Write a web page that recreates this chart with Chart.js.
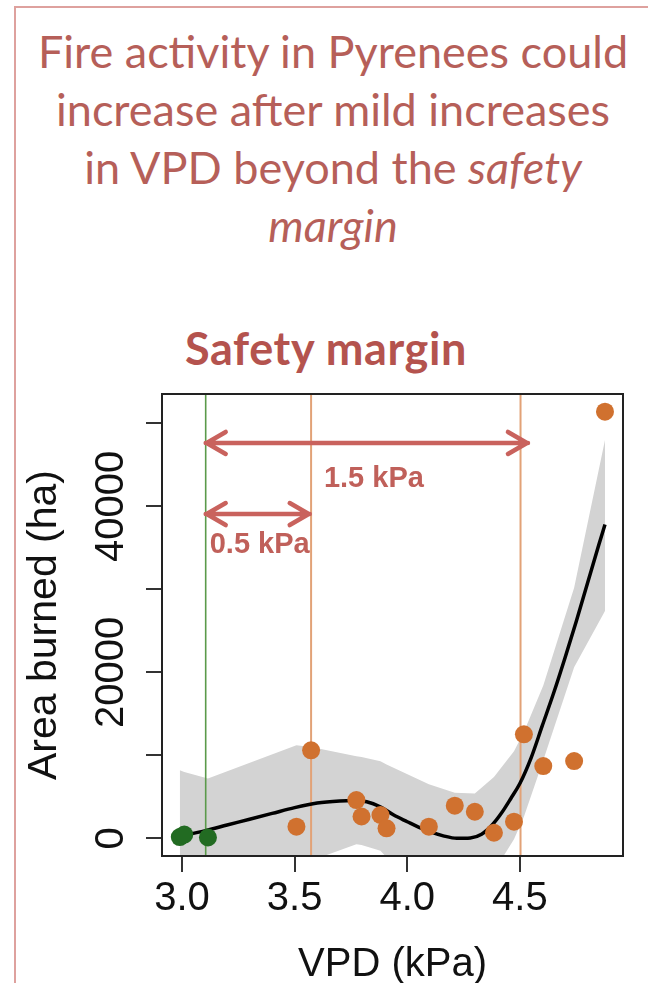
<!DOCTYPE html>
<html>
<head>
<meta charset="utf-8">
<title>Fire activity and VPD safety margin</title>
<script src="https://cdn.jsdelivr.net/npm/chart.js@4.4.1/dist/chart.umd.min.js"></script>
<style>
  html, body { margin: 0; padding: 0; background: #ffffff; overflow: hidden; }
  #page { position: relative; width: 648px; height: 983px; overflow: hidden; }
  #frameLeft { position: absolute; left: 14px; top: 6px; width: 2px; height: 990px; background: #dea19e; }
  #frameTop  { position: absolute; left: 14px; top: 6px; width: 640px; height: 2px; background: #dea19e; }
  #headline { position: absolute; left: 18px; top: 22px; width: 630px; text-align: center;
              font-family: Lato, "Open Sans", sans-serif; font-size: 45px; line-height: 58px; color: #b65f59; }
  #subtitle { position: absolute; left: 2px; top: 326px; width: 648px; text-align: center; letter-spacing: 0.6px;
              font-family: Lato, "Open Sans", sans-serif; font-weight: bold; font-size: 45px; line-height: 45px; color: #b4534e; }
  canvas { position: absolute; left: 0; top: 0; }
</style>
</head>
<body>
<div id="page">
  <div id="frameLeft"></div>
  <div id="frameTop"></div>
  <div id="headline">Fire activity in Pyrenees could<br>increase after mild increases<br>in VPD beyond the <i>safety</i><br><i>margin</i></div>
  <div id="subtitle">Safety margin</div>
  <canvas id="chart" width="648" height="983"></canvas>
</div>
<script>
// Yearly observations: VPD (kPa) and area burned (ha)
const greenVpd  = [2.99, 3.01, 3.115];
const greenArea = [150, 450, 100];
const orangeVpd  = [3.508, 3.573, 3.774, 3.797, 3.881, 3.908, 4.096, 4.211, 4.300, 4.385, 4.474, 4.518, 4.604, 4.741, 4.878];
const orangeArea = [1400, 10600, 4610, 2630, 2810, 1200, 1400, 3930, 3200, 670, 2000, 12530, 8710, 9310, 51400];

// Fitted response curve
const fitVpd  = [2.99, 3.10, 3.20, 3.30, 3.40, 3.50, 3.60, 3.70, 3.76, 3.82, 3.88, 3.94, 4.00, 4.05, 4.10, 4.16, 4.22, 4.28, 4.33, 4.38, 4.42, 4.46, 4.50, 4.55, 4.60, 4.65, 4.70, 4.75, 4.80, 4.85, 4.878];
const fitArea = [250, 900, 1600, 2300, 3000, 3700, 4250, 4500, 4550, 4400, 3800, 2800, 2000, 1350, 800, 300, 0, 50, 500, 1700, 3100, 4800, 6600, 9700, 13600, 17500, 21700, 26100, 30700, 35300, 37800];

// Confidence band of the fit
const bandVpd   = [2.99, 3.01, 3.115, 3.508, 3.573, 3.774, 3.797, 3.881, 3.908, 4.096, 4.211, 4.300, 4.385, 4.474, 4.518, 4.604, 4.741, 4.878];
const bandUpper = [8200, 8000, 7200, 11200, 11000, 9900, 9800, 9300, 8900, 6500, 5500, 5400, 7400, 10500, 12800, 18400, 30200, 48000];
const bandLower = [-7600, -7400, -5300, -3900, -2700, -700, -800, -1500, -2300, -4800, -5400, -5200, -4000, -100, 2600, 9400, 20600, 27400];

// Threshold VPD and the two margin levels
const thresholdVpd = 3.105;
const marginVpd    = [3.573, 4.503];

// Margin arrows: start, end, height, label
const arrowFrom   = [3.105, 3.105];
const arrowTo     = [4.536, 3.567];
const arrowLevel  = [47630, 39070];
const arrowLabels = ['1.5 kPa', '0.5 kPa'];
const arrowLabelVpd  = [3.852, 3.123];
const arrowLabelArea = [42330, 34370];
const arrowLabelAlign = ['center', 'left'];

// Axis ticks
const vpdTicks = [3.0, 3.5, 4.0, 4.5];
const areaTicks = [0, 10000, 20000, 30000, 40000, 50000];
const areaTickLabels = ['0', '', '20000', '', '40000', ''];

const AXIS_FONT = '"Liberation Sans", Arial, Helvetica, sans-serif';
const pts = (xs, ys) => xs.map((x, i) => ({ x: x, y: ys[i] }));
const vline = v => [{ x: v, y: -20000 }, { x: v, y: 70000 }];

const plotBox = {
  id: 'plotBox',
  afterDatasetsDraw(chart) {
    const { ctx, chartArea: a } = chart;
    ctx.save();
    ctx.strokeStyle = '#222';
    ctx.lineWidth = 2;
    ctx.strokeRect(a.left, a.top, a.right - a.left, a.bottom - a.top);
    ctx.restore();
  }
};

const marginArrows = {
  id: 'marginArrows',
  afterDatasetsDraw(chart) {
    const { ctx, scales: { x, y } } = chart;
    ctx.save();
    ctx.strokeStyle = '#c9625d';
    ctx.lineWidth = 4.5;
    ctx.lineCap = 'round';
    ctx.lineJoin = 'round';
    arrowFrom.forEach((v, i) => {
      const x1 = x.getPixelForValue(v), x2 = x.getPixelForValue(arrowTo[i]);
      const py = y.getPixelForValue(arrowLevel[i]);
      ctx.beginPath();
      ctx.moveTo(x1, py); ctx.lineTo(x2, py);
      ctx.moveTo(x1 + 20, py - 11); ctx.lineTo(x1 + 1, py); ctx.lineTo(x1 + 20, py + 11);
      ctx.moveTo(x2 - 20, py - 11); ctx.lineTo(x2 - 1, py); ctx.lineTo(x2 - 20, py + 11);
      ctx.stroke();
    });
    ctx.fillStyle = '#c0605a';
    ctx.font = 'bold 29px ' + AXIS_FONT;
    ctx.textBaseline = 'alphabetic';
    arrowLabels.forEach((t, i) => {
      ctx.textAlign = arrowLabelAlign[i];
      ctx.fillText(t, x.getPixelForValue(arrowLabelVpd[i]), y.getPixelForValue(arrowLabelArea[i]));
    });
    ctx.restore();
  }
};

const rotatedAreaLabels = {
  id: 'rotatedAreaLabels',
  afterDraw(chart) {
    const { ctx } = chart;
    const ys = chart.scales.y;
    ctx.save();
    ctx.font = '40px ' + AXIS_FONT;
    ctx.fillStyle = '#111';
    ctx.textAlign = 'center';
    ctx.textBaseline = 'alphabetic';
    areaTicks.forEach((v, i) => {
      const lab = areaTickLabels[i];
      if (!lab) return;
      ctx.save();
      ctx.translate(ys.right - 39, ys.getPixelForValue(v));
      ctx.rotate(-Math.PI / 2);
      ctx.fillText(lab, 0, 0);
      ctx.restore();
    });
    ctx.restore();
  }
};

new Chart(document.getElementById('chart'), {
  type: 'line',
  data: {
    datasets: [
      { data: pts(bandVpd, bandUpper), fill: '+1', backgroundColor: '#d3d3d3', borderWidth: 0, pointRadius: 0, tension: 0, order: 6 },
      { data: pts(bandVpd, bandLower), fill: false, borderWidth: 0, pointRadius: 0, tension: 0, order: 6 },
      { data: vline(thresholdVpd), borderColor: '#5b9a4b', borderWidth: 1.6, pointRadius: 0, fill: false, order: 5 },
      { data: vline(marginVpd[0]), borderColor: '#e2a277', borderWidth: 2, pointRadius: 0, fill: false, order: 5 },
      { data: vline(marginVpd[1]), borderColor: '#e2a277', borderWidth: 2, pointRadius: 0, fill: false, order: 5 },
      { data: pts(fitVpd, fitArea), borderColor: '#000', borderWidth: 3.5, pointRadius: 0, fill: false, cubicInterpolationMode: 'monotone', order: 4 },
      { data: pts(orangeVpd, orangeArea), showLine: false, pointRadius: 9, pointBackgroundColor: '#d0712f', pointBorderWidth: 0, order: 2 },
      { data: pts(greenVpd, greenArea), showLine: false, pointRadius: 9, pointBackgroundColor: '#226b22', pointBorderWidth: 0, order: 1 }
    ]
  },
  options: {
    responsive: false,
    animation: false,
    events: [],
    devicePixelRatio: 1,
    layout: { padding: { left: 0, right: 25, top: 394, bottom: 0 } },
    plugins: { legend: { display: false }, tooltip: { enabled: false }, title: { display: false } },
    scales: {
      x: {
        type: 'linear', min: 2.911, max: 4.958,
        afterBuildTicks: s => { s.ticks = vpdTicks.map(v => ({ value: v })); },
        afterFit: s => { s.height = 127; },
        border: { display: false },
        grid: { drawOnChartArea: false, drawTicks: true, tickLength: 16, color: '#333', lineWidth: 2 },
        ticks: { font: { family: AXIS_FONT, size: 40 }, color: '#111', padding: 3, maxRotation: 0,
                 callback: v => Number(v).toFixed(1) },
        title: { display: true, text: 'VPD (kPa)', color: '#111', font: { family: AXIS_FONT, size: 40, lineHeight: 1 }, padding: { top: 0, bottom: -2 } }
      },
      y: {
        type: 'linear', min: -2130, max: 53530,
        afterBuildTicks: s => { s.ticks = areaTicks.map(v => ({ value: v })); },
        afterFit: s => { s.width = 162; },
        border: { display: false },
        grid: { drawOnChartArea: false, drawTicks: true, tickLength: 16, color: '#333', lineWidth: 2 },
        ticks: { display: false },
        title: { display: true, text: 'Area burned (ha)', color: '#111', font: { family: AXIS_FONT, size: 41, lineHeight: 1 }, padding: { top: 24, bottom: 0 } }
      }
    }
  },
  plugins: [plotBox, marginArrows, rotatedAreaLabels]
});
</script>
</body>
</html>
